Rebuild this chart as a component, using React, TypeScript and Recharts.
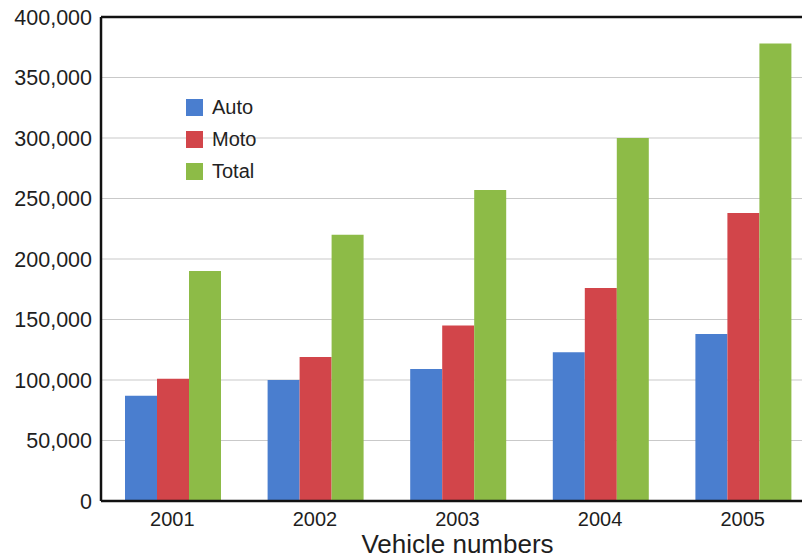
import React from "react";
import {
  BarChart,
  Bar,
  XAxis,
  YAxis,
  CartesianGrid,
  Legend,
  ReferenceLine,
  Label,
} from "recharts";

const years = ["2001", "2002", "2003", "2004", "2005"];
const auto = [87000, 100000, 109000, 123000, 138000];
const moto = [101000, 119000, 145000, 176000, 238000];
const total = [190000, 220000, 257000, 300000, 378000];
const yTicks = [0, 50000, 100000, 150000, 200000, 250000, 300000, 350000, 400000];

const data = years.map((year, i) => ({
  year,
  Auto: auto[i],
  Moto: moto[i],
  Total: total[i],
}));

const FONT = '"Liberation Sans", Arial, Helvetica, sans-serif';

const series = [
  { key: "Auto", color: "#4a7ecf" },
  { key: "Moto", color: "#d2454a" },
  { key: "Total", color: "#8dbb47" },
];

function LegendBox() {
  return (
    <div style={{ fontFamily: FONT, fontSize: 20, color: "#222" }}>
      {series.map((s) => (
        <div
          key={s.key}
          style={{ display: "flex", alignItems: "center", height: 32 }}
        >
          <span
            style={{
              width: 17,
              height: 17,
              background: s.color,
              marginRight: 9,
              display: "inline-block",
            }}
          />
          {s.key}
        </div>
      ))}
    </div>
  );
}

export default function App() {
  return (
    <div
      style={{
        position: "fixed",
        left: 0,
        top: 0,
        width: 802,
        height: 560,
        overflow: "hidden",
        background: "#fff",
      }}
    >
      <BarChart
        width={824}
        height={560}
        data={data}
        margin={{ top: 17, right: 10, bottom: 0, left: 0 }}
        barCategoryGap={24}
        barGap={0}
      >
        <CartesianGrid vertical={false} stroke="#c9c9c9" strokeWidth={1} />
        <XAxis
          dataKey="year"
          height={59}
          axisLine={{ stroke: "#111", strokeWidth: 2.5 }}
          tickLine={false}
          tickMargin={5}
          tick={{ fill: "#1e1e1e", fontSize: 20, fontFamily: FONT }}
        >
          <Label
            value="Vehicle numbers"
            position="insideBottom"
            offset={7}
            style={{ fill: "#1e1e1e", fontSize: 26, fontFamily: FONT }}
          />
        </XAxis>
        <YAxis
          width={101}
          domain={[0, 400000]}
          ticks={yTicks}
          interval={0}
          axisLine={{ stroke: "#111", strokeWidth: 2.5 }}
          tickLine={false}
          tickMargin={3}
          tickFormatter={(v) => Number(v).toLocaleString("en-US")}
          tick={{ fill: "#1e1e1e", fontSize: 21.5, fontFamily: FONT }}
        />
        <ReferenceLine y={400000} stroke="#111" strokeWidth={2.5} />
        <Legend
          layout="vertical"
          align="center"
          verticalAlign="middle"
          content={<LegendBox />}
          wrapperStyle={{ left: 186, top: 91, width: "auto" }}
        />
        {series.map((s) => (
          <Bar
            key={s.key}
            dataKey={s.key}
            fill={s.color}
            isAnimationActive={false}
          />
        ))}
      </BarChart>
    </div>
  );
}
